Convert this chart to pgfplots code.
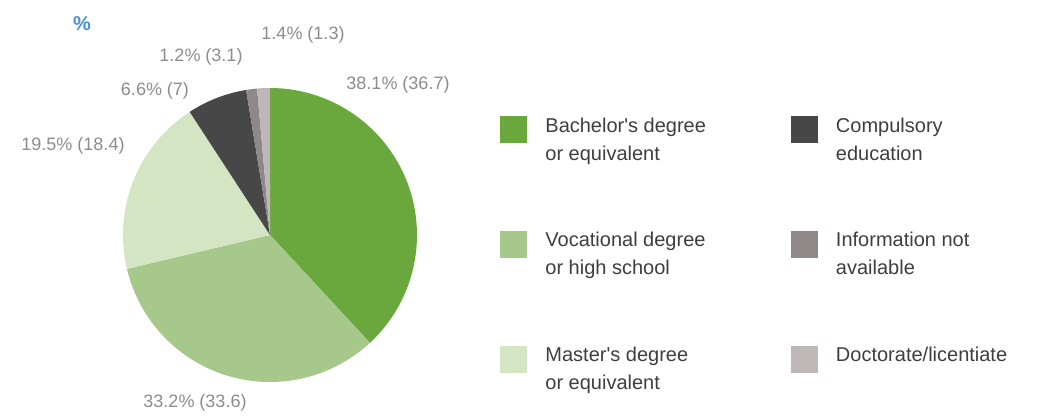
\documentclass[border=0pt]{standalone}
\usepackage{fontspec}
\setmainfont{Liberation Sans}
\usepackage{pgfplots}
\pgfplotsset{compat=1.18}

\definecolor{bachelor}{HTML}{6AA83E}
\definecolor{vocational}{HTML}{A6C88A}
\definecolor{master}{HTML}{D4E5C4}
\definecolor{compulsory}{HTML}{474747}
\definecolor{noinfo}{HTML}{8E8888}
\definecolor{doctorate}{HTML}{BDB7B7}
\definecolor{labelgray}{HTML}{8C8C8C}
\definecolor{legendtext}{HTML}{3E3E3E}
\definecolor{pctblue}{HTML}{4A8FD0}

% slice: start and end of the slice in cumulative percent
\newcommand{\pieslice}[3]{%
  \addplot[fill=#3, draw=none, forget plot, domain={90-3.6*#2}:{90-3.6*#1}, samples=90]
    ({270+147*cos(x)},{235-147*sin(x)}) -- (axis cs:270,235) -- cycle;
}

\begin{document}
\begin{tikzpicture}
\begin{axis}[
  scale only axis,
  width=526pt, height=208.5pt,
  xmin=0, xmax=1052, ymin=0, ymax=417,
  y dir=reverse,
  hide axis,
  clip=false,
  legend columns=2,
  legend cell align=left,
  legend image code/.code={\fill[#1, draw=none] (0pt,-1.5pt) rectangle (13.5pt,12pt);},
  legend style={
    at={(axis cs:500,116)}, anchor=north west,
    draw=none, fill=none, inner sep=0pt,
    font=\fontsize{10}{14}\selectfont, text=legendtext,
    nodes={inner sep=0pt, align=left},
    /tikz/every odd column/.append style={column sep=9pt},
    /tikz/every even column/.append style={column sep=42.5pt},
    row sep=34pt,
  },
]
\path (axis cs:0,0) rectangle (axis cs:1052,417);

% cumulative percentages, clockwise from 12 o'clock
\pieslice{0}{38.1}{bachelor}
\pieslice{38.1}{71.3}{vocational}
\pieslice{71.3}{90.8}{master}
\pieslice{90.8}{97.4}{compulsory}
\pieslice{97.4}{98.6}{noinfo}
\pieslice{98.6}{100}{doctorate}

\addlegendimage{fill=bachelor}
\addlegendentry{Bachelor\textquotesingle s degree\\or equivalent}
\addlegendimage{fill=compulsory}
\addlegendentry{Compulsory\\education}
\addlegendimage{fill=vocational}
\addlegendentry{Vocational degree\\or high school}
\addlegendimage{fill=noinfo}
\addlegendentry{Information not\\available}
\addlegendimage{fill=master}
\addlegendentry{Master\textquotesingle s degree\\or equivalent}
\addlegendimage{fill=doctorate}
\addlegendentry{Doctorate/licentiate\\\mbox{}}

\begin{scope}[font=\fontsize{9}{11}\selectfont, text=labelgray]
\node at (axis cs:398,85) {38.1\% (36.7)};
\node at (axis cs:195,403) {33.2\% (33.6)};
\node at (axis cs:73,146) {19.5\% (18.4)};
\node at (axis cs:155,91) {6.6\% (7)};
\node at (axis cs:201,57) {1.2\% (3.1)};
\node at (axis cs:303,35) {1.4\% (1.3)};
\end{scope}
\node[text=pctblue, font=\fontsize{10}{12}\selectfont\bfseries] at (axis cs:82,24) {\%};
\end{axis}
\end{tikzpicture}
\end{document}
